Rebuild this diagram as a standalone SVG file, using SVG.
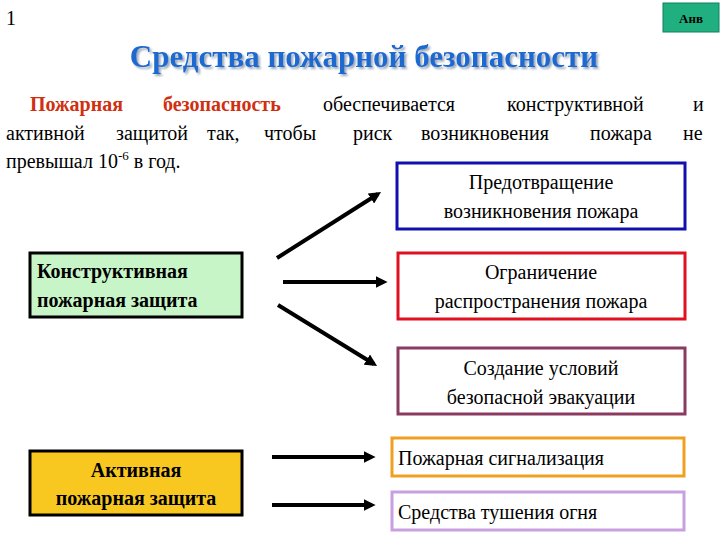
<svg xmlns="http://www.w3.org/2000/svg" width="720" height="540" viewBox="0 0 720 540">
<defs>
<style>
text{font-family:'Liberation Serif','Times New Roman',serif}
.box{stroke-width:3}
.ln{stroke:#000;stroke-width:4;fill:none;marker-end:url(#ah)}
</style>
<marker id="ah" viewBox="0 0 10 10" refX="7" refY="5" markerWidth="3" markerHeight="3" orient="auto"><path d="M0,0L10,5L0,10z" fill="#000"/></marker>
<filter id="sh" x="-5%" y="-20%" width="110%" height="150%"><feDropShadow dx="2" dy="2" stdDeviation="1" flood-color="#9aa8b8"/></filter>
</defs>
<rect width="720" height="540" fill="#fff"/>
<g font-family="Liberation Serif, serif" font-size="20" fill="#000">
<text x="6" y="25">1</text>
<g id="anv"><rect x="663" y="3" width="56" height="29" fill="#20b080" stroke="#108060"/><text x="691" y="23" font-size="13" font-weight="bold" text-anchor="middle">Анв</text></g>
<text x="364" y="67" font-size="31" font-weight="bold" text-anchor="middle" fill="#1c6ad0" filter="url(#sh)">Средства пожарной безопасности</text>
<text x="30" y="111"><tspan font-weight="bold" fill="#d03010">Пожарная</tspan><tspan x="163" font-weight="bold" fill="#d03010">безопасность</tspan><tspan x="323">обеспечивается</tspan><tspan x="507">конструктивной</tspan><tspan x="693">и</tspan></text>
<text x="6" y="140"><tspan x="6">активной</tspan><tspan x="116">защитой</tspan><tspan x="207">так,</tspan><tspan x="264">чтобы</tspan><tspan x="353">риск</tspan><tspan x="421">возникновения</tspan><tspan x="590">пожара</tspan><tspan x="683">не</tspan></text>
<text x="6" y="168">превышал 10<tspan font-size="13" dy="-8">-6</tspan><tspan dy="8"> в год.</tspan></text>
<g id="n1"><rect x="397" y="163" width="288" height="66" fill="#fff" stroke="#1010b0" class="box"/><text x="541" y="189" text-anchor="middle">Предотвращение</text><text x="541" y="218" text-anchor="middle">возникновения пожара</text></g>
<g id="n2"><rect x="398" y="253" width="287" height="66" fill="#fff" stroke="#e01020" class="box"/><text x="541" y="279" text-anchor="middle">Ограничение</text><text x="541" y="308" text-anchor="middle">распространения пожара</text></g>
<g id="n3"><rect x="398" y="348" width="287" height="66" fill="#fff" stroke="#8a3a60" class="box"/><text x="541" y="375" text-anchor="middle">Создание условий</text><text x="541" y="404" text-anchor="middle">безопасной эвакуации</text></g>
<g id="n4"><rect x="392" y="438" width="292" height="38" fill="#fff" stroke="#f0a020" class="box"/><text x="398" y="465">Пожарная сигнализация</text></g>
<g id="n5"><rect x="392" y="492" width="292" height="38" fill="#fff" stroke="#c8a0e0" class="box"/><text x="398" y="519">Средства тушения огня</text></g>
<g id="k"><rect x="30" y="253" width="212" height="64" fill="#c8f5c8" stroke="#000" class="box"/><text x="37" y="278" font-weight="bold">Конструктивная</text><text x="37" y="307" font-weight="bold">пожарная защита</text></g>
<g id="a"><rect x="30" y="451" width="212" height="64" fill="#f8c820" stroke="#000" class="box"/><text x="136" y="477" font-weight="bold" text-anchor="middle">Активная</text><text x="136" y="505" font-weight="bold" text-anchor="middle">пожарная защита</text></g>
</g>
<g id="connectors">
<line x1="277" y1="258" x2="378" y2="194" class="ln"/>
<line x1="283" y1="282" x2="384" y2="282" class="ln"/>
<line x1="278" y1="305" x2="374" y2="364" class="ln"/>
<line x1="272" y1="457" x2="372" y2="457" class="ln"/>
<line x1="272" y1="505" x2="372" y2="505" class="ln"/>
</g>
</svg>
